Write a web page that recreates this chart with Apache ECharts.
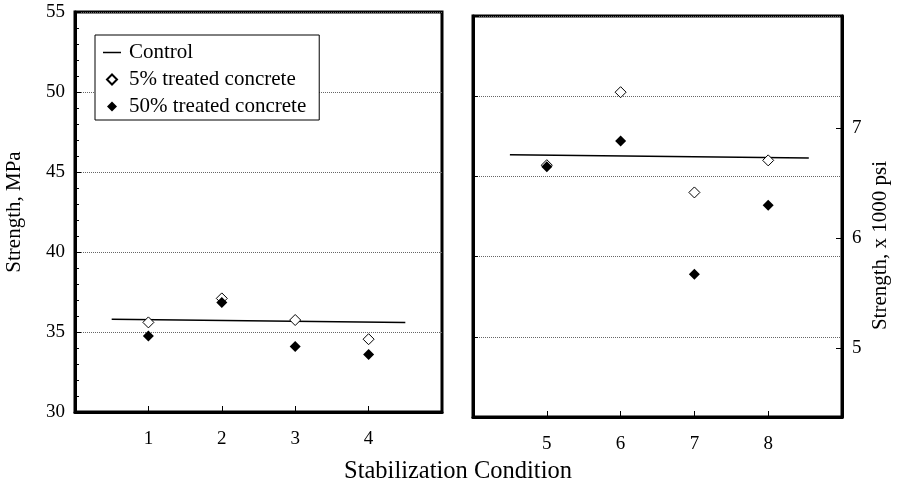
<!DOCTYPE html>
<html>
<head>
<meta charset="utf-8">
<script src="https://cdn.jsdelivr.net/npm/echarts@6/dist/echarts.min.js"></script>
<style>html,body{margin:0;padding:0;background:#fff;}#c{width:899px;height:486px;}</style>
</head>
<body>
<div id="c"></div>
<script>
// ---- data ----
const leftConditions = [1, 2, 3, 4];
const rightConditions = [5, 6, 7, 8];
const treated5Left = [35.6, 37.1, 35.75, 34.55];
const treated50Left = [34.75, 36.85, 34.1, 33.6];
const treated5Right = [45.7, 50.25, 44.0, 46.0];
const treated50Right = [45.6, 47.2, 38.9, 43.2];
const controlLeftX = [0.5, 4.5];
const controlLeftY = [35.8, 35.6];
const controlRightX = [4.5, 8.55];
const controlRightY = [46.35, 46.15];
const psiTicks = [5, 6, 7];
const psiMin = 4.37;
const psiMax = 8.02;

const FONT = '"Liberation Serif", "Times New Roman", serif';
const pairs = (xs, ys) => xs.map((x, i) => [x, ys[i]]);
const diamondPath = 'path://M5,0L10,5L5,10L0,5Z';
const linePath = 'path://M0,0L18,0L18,1.5L0,1.5Z';

const chart = echarts.init(document.getElementById('c'));

const gridCommon = { show: true, borderColor: '#000', borderWidth: 3, backgroundColor: '#fff', containLabel: false };
const lbl = { fontFamily: FONT, fontSize: 19, color: '#000' };

const option = {
  animation: false,
  backgroundColor: '#fff',
  textStyle: { fontFamily: FONT, color: '#000' },
  title: {
    text: 'Stabilization Condition',
    left: 453, top: 454, textAlign: 'center',
    textStyle: { fontFamily: FONT, fontSize: 24.5, fontWeight: 'normal', color: '#000' }
  },
  legend: {
    orient: 'vertical', left: 95, top: 35,
    backgroundColor: '#fff', borderColor: '#000', borderWidth: 1,
    padding: [7, 13, 3, 8],
    itemWidth: 18, itemHeight: 10, itemGap: 6,
    textStyle: { fontFamily: FONT, fontSize: 21, color: '#000', padding: [0, 0, 0, 3] },
    data: [
      { name: 'Control', icon: linePath },
      { name: '5% treated concrete', icon: diamondPath },
      { name: '50% treated concrete', icon: diamondPath }
    ]
  },
  grid: [
    Object.assign({ left: 75, right: 899 - 442, top: 12, bottom: 486 - 412 }, gridCommon),
    Object.assign({ left: 473, right: 899 - 842, top: 16, bottom: 486 - 417 }, gridCommon)
  ],
  xAxis: [
    {
      type: 'value', gridIndex: 0, min: 0, max: 5, interval: 1,
      axisLine: { lineStyle: { color: '#000', width: 3 } },
      axisTick: { inside: true, length: 6, lineStyle: { color: '#000' } },
      axisLabel: Object.assign({ showMinLabel: false, showMaxLabel: false, margin: 18 }, lbl),
      splitLine: { show: false }
    },
    {
      type: 'value', gridIndex: 1, min: 4, max: 9, interval: 1,
      axisLine: { lineStyle: { color: '#000', width: 3 } },
      axisTick: { inside: true, length: 6, lineStyle: { color: '#000' } },
      axisLabel: Object.assign({ showMinLabel: false, showMaxLabel: false, margin: 18 }, lbl),
      splitLine: { show: false }
    }
  ],
  yAxis: [
    {
      type: 'value', gridIndex: 0, min: 30, max: 55, interval: 5,
      name: 'Strength, MPa', nameLocation: 'middle', nameGap: 50,
      nameTextStyle: { fontFamily: FONT, fontSize: 21, color: '#000' },
      axisLine: { lineStyle: { color: '#000', width: 3 } },
      axisTick: { inside: true, length: 6, lineStyle: { color: '#000' } },
      minorTick: { show: true, splitNumber: 5, length: 4, lineStyle: { color: '#000' } },
      axisLabel: Object.assign({ margin: 10 }, lbl),
      splitLine: { show: true, lineStyle: { color: '#666', type: 'dotted', width: 1 } }
    },
    {
      type: 'value', gridIndex: 1, min: 30, max: 55, interval: 5, position: 'left',
      axisLine: { lineStyle: { color: '#000', width: 3 } },
      axisTick: { inside: true, length: 5, lineStyle: { color: '#000' } },
      axisLabel: { show: false },
      splitLine: { show: true, lineStyle: { color: '#666', type: 'dotted', width: 1 } }
    },
    {
      type: 'value', gridIndex: 1, position: 'right',
      min: psiMin, max: psiMax,
      name: 'Strength, x 1000 psi', nameLocation: 'middle', nameGap: 28,
      nameTextStyle: { fontFamily: FONT, fontSize: 21, color: '#000', padding: [0, 58, 0, 0] },
      axisLine: { show: true, lineStyle: { color: '#000', width: 3 } },
      axisTick: { show: true, inside: true, length: 6, customValues: psiTicks, lineStyle: { color: '#000' } },
      axisLabel: Object.assign({ show: true, margin: 10, customValues: psiTicks, formatter: v => String(Math.round(v)) }, lbl),
      splitLine: { show: false }
    }
  ],
  series: [
    {
      name: 'Control', type: 'line', xAxisIndex: 0, yAxisIndex: 0,
      data: pairs(controlLeftX, controlLeftY), symbol: 'none', showSymbol: false,
      lineStyle: { color: '#000', width: 1.5 }, itemStyle: { color: '#000' }, z: 3
    },
    {
      name: 'Control', type: 'line', xAxisIndex: 1, yAxisIndex: 1,
      data: pairs(controlRightX, controlRightY), symbol: 'none', showSymbol: false,
      lineStyle: { color: '#000', width: 1.5 }, itemStyle: { color: '#000' }, z: 3
    },
    {
      name: '5% treated concrete', type: 'scatter', xAxisIndex: 0, yAxisIndex: 0,
      data: pairs(leftConditions, treated5Left), symbol: 'diamond', symbolSize: 11,
      itemStyle: { color: '#fff', borderColor: '#000', borderWidth: 1, opacity: 1 }, z: 4
    },
    {
      name: '5% treated concrete', type: 'scatter', xAxisIndex: 1, yAxisIndex: 1,
      data: pairs(rightConditions, treated5Right), symbol: 'diamond', symbolSize: 11,
      itemStyle: { color: '#fff', borderColor: '#000', borderWidth: 1, opacity: 1 }, z: 4
    },
    {
      name: '50% treated concrete', type: 'scatter', xAxisIndex: 0, yAxisIndex: 0,
      data: pairs(leftConditions, treated50Left), symbol: 'diamond', symbolSize: 11,
      itemStyle: { color: '#000', opacity: 1 }, z: 5
    },
    {
      name: '50% treated concrete', type: 'scatter', xAxisIndex: 1, yAxisIndex: 1,
      data: pairs(rightConditions, treated50Right), symbol: 'diamond', symbolSize: 11,
      itemStyle: { color: '#000', opacity: 1 }, z: 5
    }
  ]
};
chart.setOption(option);
</script>
</body>
</html>
